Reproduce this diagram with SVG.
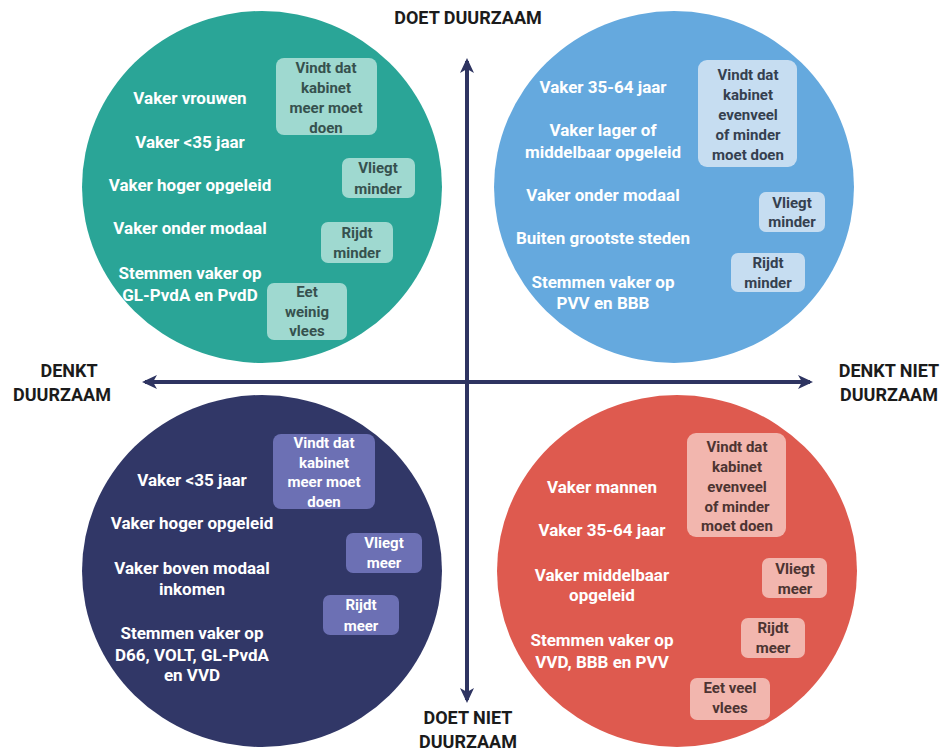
<svg xmlns="http://www.w3.org/2000/svg" width="947" height="751" viewBox="0 0 947 751">
<style>
.t{font-family:Roboto,"Liberation Sans",sans-serif;font-weight:700;font-size:17px;fill:#ffffff;text-anchor:middle}
.b{font-family:Roboto,"Liberation Sans",sans-serif;font-weight:700;font-size:15px;text-anchor:middle}
.ax{font-family:Roboto,"Liberation Sans",sans-serif;font-weight:700;font-size:18px;fill:#1b1b1b;text-anchor:middle}
.tb{fill:#9fd9d0}.tt{fill:#36514e}
.bb{fill:#c6ddf1}.bt{fill:#35404f}
.nb{fill:#6c70b4}.nt{fill:#ffffff}
.rb{fill:#f2b6ae}.rt{fill:#4d3432}
</style>
<defs>
<marker id="ah" markerWidth="16" markerHeight="16" refX="12" refY="8" orient="auto-start-reverse" markerUnits="userSpaceOnUse">
<path d="M0,1 L15,8 L0,15 L4,8 z" fill="#2e3461"/>
</marker>
</defs>
<rect width="947" height="751" fill="#ffffff"/>
<g id="connectors">
<line x1="467" y1="61" x2="467" y2="700" stroke="#2e3461" stroke-width="4" marker-start="url(#ah)" marker-end="url(#ah)"/>
<line x1="145" y1="382" x2="810" y2="382" stroke="#2e3461" stroke-width="4" marker-start="url(#ah)" marker-end="url(#ah)"/>
</g>
<g id="labels">
<text class="ax" x="468" y="24">DOET DUURZAAM</text>
<text class="ax" x="69" y="377">DENKT</text>
<text class="ax" x="62" y="401">DUURZAAM</text>
<text class="ax" x="889" y="377">DENKT NIET</text>
<text class="ax" x="889" y="401">DUURZAAM</text>
<text class="ax" x="468" y="724">DOET NIET</text>
<text class="ax" x="468" y="748">DUURZAAM</text>
</g>
<g id="teal">
<ellipse cx="262" cy="187" rx="180" ry="176" fill="#2aa597"/>
<text class="t" x="190" y="104">Vaker vrouwen</text>
<text class="t" x="190" y="148">Vaker &lt;35 jaar</text>
<text class="t" x="190" y="191">Vaker hoger opgeleid</text>
<text class="t" x="190" y="234">Vaker onder modaal</text>
<text class="t" x="190" y="279">Stemmen vaker op</text>
<text class="t" x="190" y="301">GL-PvdA en PvdD</text>
<rect class="tb" x="276" y="58" width="101" height="77" rx="8"/>
<text class="b tt"><tspan x="326" y="73">Vindt dat</tspan><tspan x="326" y="93">kabinet</tspan><tspan x="326" y="113">meer moet</tspan><tspan x="326" y="133">doen</tspan></text>
<rect class="tb" x="342" y="158" width="73" height="40" rx="7"/>
<text class="b tt"><tspan x="378" y="173">Vliegt</tspan><tspan x="378" y="194">minder</tspan></text>
<rect class="tb" x="321" y="222" width="72" height="41" rx="7"/>
<text class="b tt"><tspan x="357" y="238">Rijdt</tspan><tspan x="357" y="258">minder</tspan></text>
<rect class="tb" x="267" y="283" width="80" height="57" rx="7"/>
<text class="b tt"><tspan x="307" y="297">Eet</tspan><tspan x="307" y="317">weinig</tspan><tspan x="307" y="336">vlees</tspan></text>
</g>
<g id="blue">
<ellipse cx="674" cy="187" rx="180" ry="176" fill="#65a9de"/>
<text class="t" x="603" y="93">Vaker 35-64 jaar</text>
<text class="t" x="603" y="136">Vaker lager of</text>
<text class="t" x="603" y="158">middelbaar opgeleid</text>
<text class="t" x="603" y="201">Vaker onder modaal</text>
<text class="t" x="603" y="244">Buiten grootste steden</text>
<text class="t" x="603" y="288">Stemmen vaker op</text>
<text class="t" x="603" y="309">PVV en BBB</text>
<rect class="bb" x="698" y="60" width="99" height="107" rx="9"/>
<text class="b bt"><tspan x="748" y="80">Vindt dat</tspan><tspan x="748" y="100">kabinet</tspan><tspan x="748" y="120">evenveel</tspan><tspan x="748" y="140">of minder</tspan><tspan x="748" y="160">moet doen</tspan></text>
<rect class="bb" x="759" y="192" width="66" height="40" rx="7"/>
<text class="b bt"><tspan x="792" y="208">Vliegt</tspan><tspan x="792" y="227">minder</tspan></text>
<rect class="bb" x="731" y="253" width="74" height="39" rx="7"/>
<text class="b bt"><tspan x="768" y="268">Rijdt</tspan><tspan x="768" y="288">minder</tspan></text>
</g>
<g id="navy">
<ellipse cx="262" cy="571" rx="180" ry="176" fill="#313767"/>
<text class="t" x="192" y="486">Vaker &lt;35 jaar</text>
<text class="t" x="192" y="529">Vaker hoger opgeleid</text>
<text class="t" x="192" y="574">Vaker boven modaal</text>
<text class="t" x="192" y="595">inkomen</text>
<text class="t" x="192" y="639">Stemmen vaker op</text>
<text class="t" x="192" y="661">D66, VOLT, GL-PvdA</text>
<text class="t" x="192" y="681">en VVD</text>
<rect class="nb" x="273" y="434" width="102" height="75" rx="8"/>
<text class="b nt"><tspan x="324" y="448">Vindt dat</tspan><tspan x="324" y="468">kabinet</tspan><tspan x="324" y="487">meer moet</tspan><tspan x="324" y="507">doen</tspan></text>
<rect class="nb" x="346" y="533" width="76" height="40" rx="7"/>
<text class="b nt"><tspan x="384" y="548">Vliegt</tspan><tspan x="384" y="568">meer</tspan></text>
<rect class="nb" x="323" y="595" width="76" height="40" rx="7"/>
<text class="b nt"><tspan x="361" y="610">Rijdt</tspan><tspan x="361" y="631">meer</tspan></text>
</g>
<g id="red">
<ellipse cx="677" cy="571" rx="180" ry="176" fill="#de5a4f"/>
<text class="t" x="602" y="493">Vaker mannen</text>
<text class="t" x="602" y="536">Vaker 35-64 jaar</text>
<text class="t" x="602" y="581">Vaker middelbaar</text>
<text class="t" x="602" y="601">opgeleid</text>
<text class="t" x="602" y="646">Stemmen vaker op</text>
<text class="t" x="602" y="668">VVD, BBB en PVV</text>
<rect class="rb" x="687" y="433" width="99" height="104" rx="9"/>
<text class="b rt"><tspan x="737" y="452">Vindt dat</tspan><tspan x="737" y="472">kabinet</tspan><tspan x="737" y="492">evenveel</tspan><tspan x="737" y="512">of minder</tspan><tspan x="737" y="531">moet doen</tspan></text>
<rect class="rb" x="762" y="558" width="65" height="40" rx="7"/>
<text class="b rt"><tspan x="795" y="574">Vliegt</tspan><tspan x="795" y="594">meer</tspan></text>
<rect class="rb" x="741" y="618" width="64" height="40" rx="7"/>
<text class="b rt"><tspan x="773" y="633">Rijdt</tspan><tspan x="773" y="653">meer</tspan></text>
<rect class="rb" x="690" y="678" width="80" height="42" rx="7"/>
<text class="b rt"><tspan x="730" y="693">Eet veel</tspan><tspan x="730" y="713">vlees</tspan></text>
</g>
</svg>
